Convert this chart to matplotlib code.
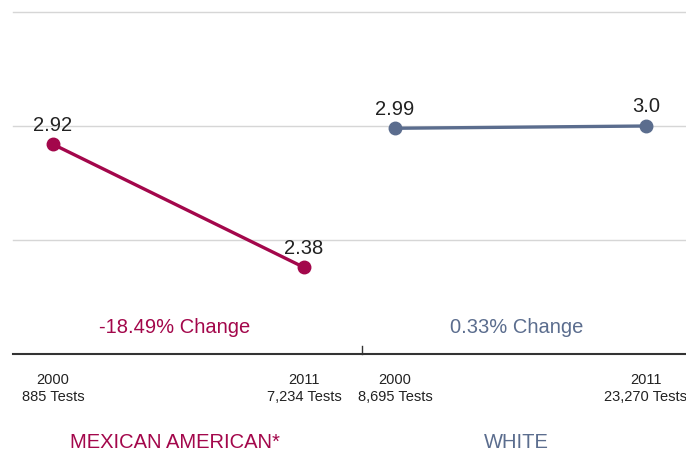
import matplotlib
matplotlib.use("Agg")
import matplotlib.pyplot as plt

plt.rcParams["font.family"] = ["Liberation Sans", "DejaVu Sans"]

groups = ["MEXICAN AMERICAN*", "WHITE"]
years = ["2000", "2011"]
tests = [["885", "7,234"], ["8,695", "23,270"]]
scores = [[2.92, 2.38], [2.99, 3.0]]
value_labels = [["2.92", "2.38"], ["2.99", "3.0"]]
changes = ["-18.49% Change", "0.33% Change"]
colors = ["#A3074B", "#5B6D8E"]

# layout: panel offset in data units, gap between the two panels
offset = 1.3625
divider = 1.231

fig = plt.figure(figsize=(6.86, 4.51), dpi=100)
ax = fig.add_axes([13 / 686, 1 - 354 / 451, 1 - 13 / 686, (354 - 12) / 451])
ax.set_xlim(-0.159, 2.522)
ax.set_ylim(2.0, 3.5)

for y in [2.5, 3.0, 3.5]:
    ax.axhline(y, color="#d6d6d6", lw=1.0, zorder=0, clip_on=False)

for i, group in enumerate(groups):
    xs = [i * offset, i * offset + 1]
    ax.plot(xs, scores[i], color=colors[i], lw=2.4, marker="o", markersize=9,
            solid_capstyle="round", zorder=3)
    for x, y, lab in zip(xs, scores[i], value_labels[i]):
        ax.annotate(lab, (x, y), xytext=(0, 7), textcoords="offset points",
                    ha="center", va="bottom", fontsize=14.5, color="#222222")
    mid = i * offset + 0.5 - 0.015
    ax.text(mid, 2.115, changes[i], ha="center", va="center",
            fontsize=14.5, color=colors[i])
    for j, x in enumerate(xs):
        ax.text(x, -0.055, f"{years[j]}\n{tests[i][j]} Tests", transform=ax.get_xaxis_transform(),
                ha="center", va="top", fontsize=10.5, color="#222222", linespacing=1.25)
    ax.text(mid, -0.23, group, transform=ax.get_xaxis_transform(),
            ha="center", va="top", fontsize=14.5, color=colors[i])

ax.axhline(2.0, color="#333333", lw=1.5, zorder=2, clip_on=False)
ax.plot([divider, divider], [0, 0.022], transform=ax.get_xaxis_transform(),
        color="#333333", lw=1.0, clip_on=False)

for s in ax.spines.values():
    s.set_visible(False)
ax.set_xticks([])
ax.set_yticks([])

fig.savefig("out.png", dpi=100, facecolor="white")
